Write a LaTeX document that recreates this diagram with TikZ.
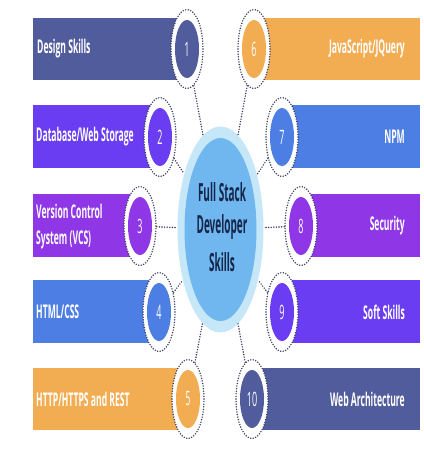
\documentclass[tikz,border=0pt]{standalone}
\usepackage{fontspec}
\usepackage{graphicx}
\setmainfont{Open Sans}
\usetikzlibrary{shapes.geometric}
\definecolor{cslate}{HTML}{515C9C}
\definecolor{cviolet}{HTML}{6A3DF2}
\definecolor{cpurple}{HTML}{8F36E6}
\definecolor{cblue}{HTML}{4C7EE3}
\definecolor{corange}{HTML}{F2AC52}
\definecolor{cdots}{HTML}{3A3D5E}
\definecolor{cring}{HTML}{C6E7F8}
\definecolor{csky}{HTML}{6FB7EE}
\definecolor{cnavy}{HTML}{15264A}
\newcommand{\stretchtxt}[3]{\scalebox{1}[#2]{\fontsize{#1}{#1}\selectfont #3}}
\tikzset{
  lbl/.style={text=white, inner sep=0pt, font=\bfseries},
  ctxt/.style={text=cnavy, inner sep=0pt, font=\bfseries},
  dotring/.style={ellipse, draw=cdots, fill=white, line width=1.6pt, line cap=round,
     dash pattern=on 0pt off 2.6pt, minimum width=32pt, minimum height=79pt, inner sep=0pt},
  numcirc/.style={ellipse, minimum width=24pt, minimum height=58pt, inner sep=0pt, text=white},
  conn/.style={draw=cdots, line width=1.6pt, line cap=round, dash pattern=on 0pt off 2.6pt},
}
\begin{document}
\begin{tikzpicture}[x=1pt,y=-1pt]
\useasboundingbox (0,0) rectangle (424,451);
\fill[white] (0,0) rectangle (424,451);
% bars left
\fill[cslate]  (33,18)  rectangle (187,80);
\fill[cviolet] (33,105) rectangle (160,168);
\fill[cpurple] (33,194) rectangle (140,257);
\fill[cblue]   (33,280) rectangle (159,343);
\fill[corange] (33,368) rectangle (188,430);
% bars right
\fill[corange] (254,18)  rectangle (420,80);
\fill[cblue]   (282,105) rectangle (420,168);
\fill[cpurple] (301,194) rectangle (420,257);
\fill[cviolet] (282,280) rectangle (420,343);
\fill[cslate]  (252,368) rectangle (420,430);
% labels
\node[lbl, anchor=west] (t1) at (37,49)  {\stretchtxt{8.6}{2.2}{Design Skills}};
\node[lbl, anchor=west] (t2) at (36,137) {\stretchtxt{8.6}{2.2}{Database/Web Storage}};
\node[lbl, anchor=west] (t3a) at (36,211) {\stretchtxt{8.6}{2.2}{Version Control}};
\node[lbl, anchor=west] (t3b) at (36,240) {\stretchtxt{8.6}{2.2}{System (VCS)}};
\node[lbl, anchor=west] (t4) at (36,312) {\stretchtxt{8.6}{2.2}{HTML/CSS}};
\node[lbl, anchor=west] (t5) at (36,399) {\stretchtxt{8.6}{2.2}{HTTP/HTTPS and REST}};
\node[lbl, anchor=east] (t6) at (405,49)  {\stretchtxt{8.6}{2.2}{JavaScript/JQuery}};
\node[lbl, anchor=east] (t7) at (405,137) {\stretchtxt{8.6}{2.2}{NPM}};
\node[lbl, anchor=east] (t8) at (405,226) {\stretchtxt{8.6}{2.2}{Security}};
\node[lbl, anchor=east] (t9) at (405,312) {\stretchtxt{8.6}{2.2}{Soft Skills}};
\node[lbl, anchor=east] (t10) at (405,399) {\stretchtxt{8.6}{2.2}{Web Architecture}};
% center
\node[ellipse, fill=cring, minimum width=86pt, minimum height=206pt, inner sep=0pt] (ctr) at (220.5,229.5) {};
\node[ellipse, fill=csky, minimum width=72pt, minimum height=183pt, inner sep=0pt] (ctrin) at (220.5,229.5) {};
\node[ctxt] (c1) at (222,192) {\stretchtxt{10}{2.5}{Full Stack}};
\node[ctxt] (c2) at (222,227) {\stretchtxt{10}{2.5}{Developer}};
\node[ctxt] (c3) at (222,262) {\stretchtxt{10}{2.5}{Skills}};
% numbered circles
\foreach \n/\cx/\cy/\col in {1/187/49/cslate, 2/160/137/cviolet, 3/140/226/cpurple, 4/159/312/cblue, 5/188/399/corange,
   6/254/49/corange, 7/282/137/cblue, 8/301/226/cpurple, 9/282/312/cviolet, 10/252/399/cslate}{
  \node[dotring] (o\n) at (\cx,\cy) {};
  \node[numcirc, fill=\col] (n\n) at (\cx,\cy) {\stretchtxt{9}{2.2}{\n}};
}
% connectors
\foreach \n in {1,...,10}{
  \draw[conn] (o\n) -- (ctr);
}
\end{tikzpicture}
\end{document}
